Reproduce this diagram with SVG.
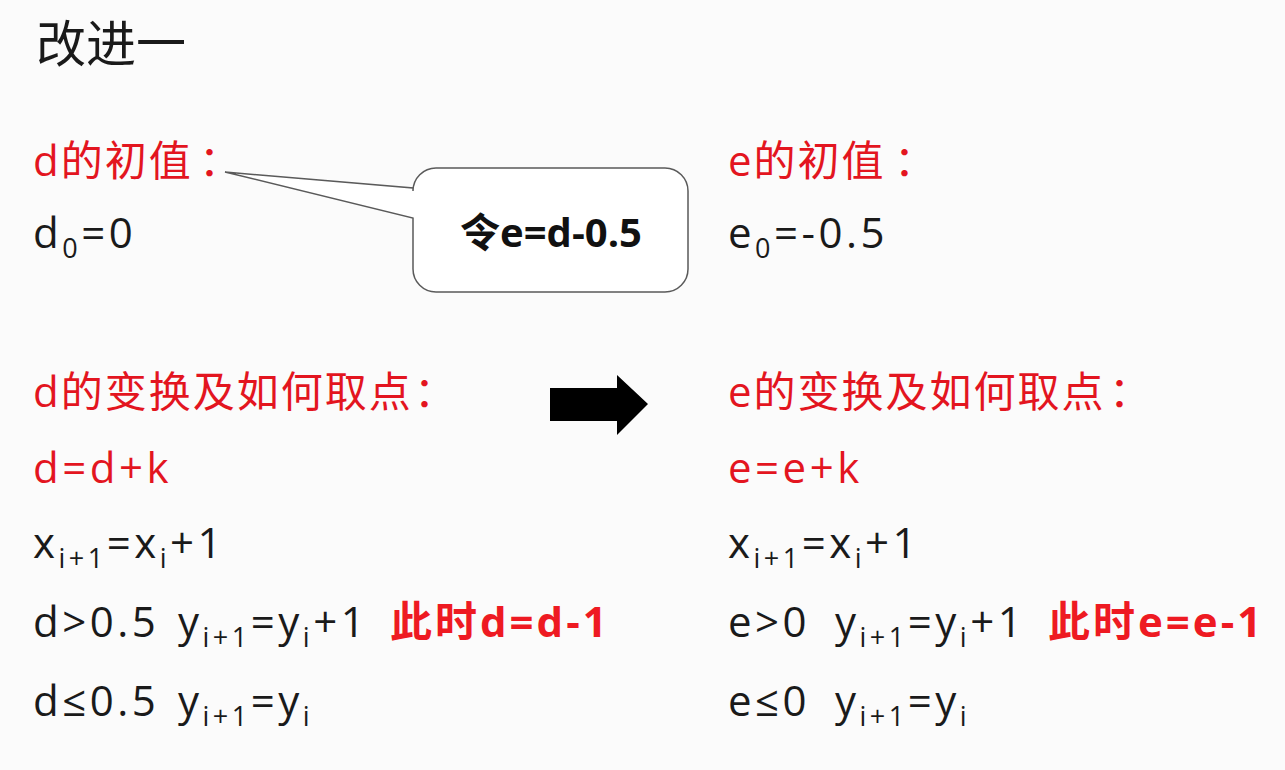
<svg xmlns="http://www.w3.org/2000/svg" width="1285" height="770" viewBox="0 0 1285 770">
<style>
text{font-family:"Open Sans","Noto Sans CJK SC",sans-serif;font-size:42px;}
.k{fill:#1a1a1a;}
.r{fill:#e3151f;}
.b{font-weight:bold;fill:#ee1a22;letter-spacing:3px;}
.m{letter-spacing:3.5px;}
.c{letter-spacing:2px;}
.s{font-size:27px;}
</style>
<rect x="0" y="0" width="1285" height="770" fill="#fbfbfb"/>
<g id="title"><text class="k" x="36" y="62" style="font-size:50px">改进一</text></g>

<g id="left-init">
<text class="r c" x="33" y="176">d的初值<tspan x="199">：</tspan></text>
<text class="k m" x="33" y="248">d<tspan class="s" dy="10">0</tspan><tspan dy="-10">=0</tspan></text>
</g>

<g id="right-init">
<text class="r c" x="728" y="176">e的初值<tspan x="894">：</tspan></text>
<text class="k m" x="728" y="248">e<tspan class="s" dy="10">0</tspan><tspan dy="-10">=-0.5</tspan></text>
</g>

<g id="callout">
<path d="M436,168 H665 A23,23 0 0 1 688,191 V269 A23,23 0 0 1 665,292 H436 A23,23 0 0 1 413,269 V218 L225,172 L413,188 V191 A23,23 0 0 1 436,168 Z" fill="#ffffff" stroke="#5a5a5a" stroke-width="1.5"/>
<text x="551" y="247" text-anchor="middle" style="font-weight:bold;font-size:40px;fill:#111">令e=d-0.5</text>
</g>

<g id="left-update">
<text class="r c" x="33" y="407">d的变换及如何取点<tspan x="414">：</tspan></text>
<text class="r m" x="33" y="483">d=d+k</text>
<text class="k m" x="33" y="558">x<tspan class="s" dy="10">i+1</tspan><tspan dy="-10">=x</tspan><tspan class="s" dy="10">i</tspan><tspan dy="-10">+1</tspan></text>
<text class="k m" x="33" y="637">d&gt;0.5</text>
<text class="k m" x="178" y="637">y<tspan class="s" dy="10">i+1</tspan><tspan dy="-10">=y</tspan><tspan class="s" dy="10">i</tspan><tspan dy="-10">+1</tspan></text>
<text class="b" x="390" y="637">此时d=d-1</text>
<text class="k m" x="33" y="716">d≤0.5</text>
<text class="k m" x="178" y="716">y<tspan class="s" dy="10">i+1</tspan><tspan dy="-10">=y</tspan><tspan class="s" dy="10">i</tspan></text>
</g>

<g id="right-update">
<text class="r c" x="728" y="407">e的变换及如何取点<tspan x="1109">：</tspan></text>
<text class="r m" x="728" y="483">e=e+k</text>
<text class="k m" x="728" y="558">x<tspan class="s" dy="10">i+1</tspan><tspan dy="-10">=x</tspan><tspan class="s" dy="10">i</tspan><tspan dy="-10">+1</tspan></text>
<text class="k m" x="728" y="637">e&gt;0</text>
<text class="k m" x="835" y="637">y<tspan class="s" dy="10">i+1</tspan><tspan dy="-10">=y</tspan><tspan class="s" dy="10">i</tspan><tspan dy="-10">+1</tspan></text>
<text class="b" x="1048" y="637">此时e=e-1</text>
<text class="k m" x="728" y="716">e≤0</text>
<text class="k m" x="835" y="716">y<tspan class="s" dy="10">i+1</tspan><tspan dy="-10">=y</tspan><tspan class="s" dy="10">i</tspan></text>
</g>

<g id="connectors">
<path d="M550,388 H617 V375 L648,404 L617,435 V421 H550 Z" fill="#000"/>
</g>
</svg>
